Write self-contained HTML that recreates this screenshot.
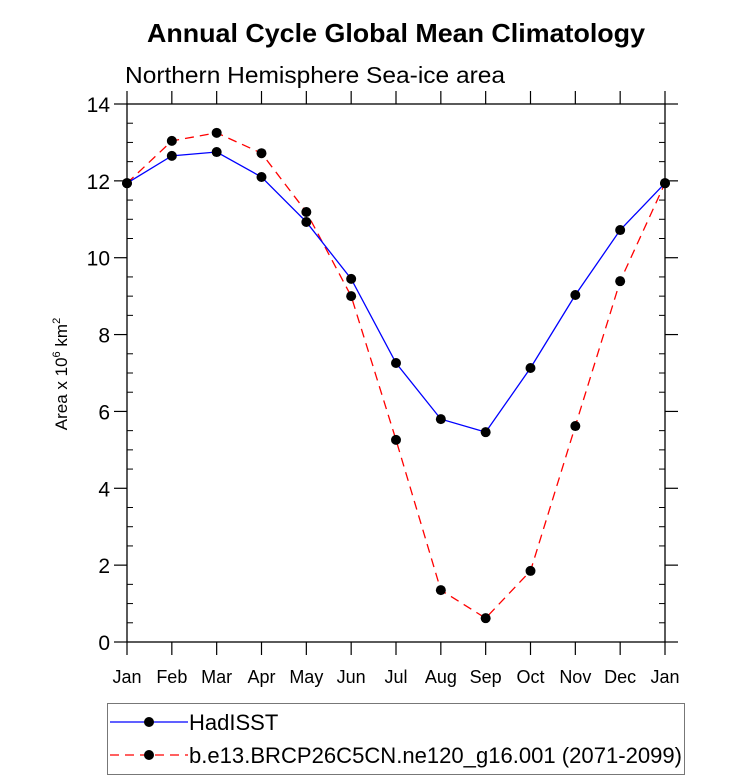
<!DOCTYPE html>
<html><head><meta charset="utf-8"><style>
body{margin:0;background:#fff;}
svg{display:block;font-family:"Liberation Sans",Arial,sans-serif;}
</style></head><body>
<svg id="c" width="733" height="781">
<text x="147" y="42" textLength="498" lengthAdjust="spacingAndGlyphs" font-size="26" font-weight="bold">Annual Cycle Global Mean Climatology</text>
<text x="125" y="83" textLength="380" lengthAdjust="spacingAndGlyphs" font-size="23">Northern Hemisphere Sea-ice area</text>
<text transform="translate(67,374) rotate(-90)" text-anchor="middle" font-size="17">Area x 10<tspan dy="-7" font-size="11">6</tspan><tspan dy="7"> km</tspan><tspan dy="-7" font-size="11">2</tspan></text>
<g id="axes"></g>
<g id="series"></g>
<g>
<rect x="107.5" y="703.5" width="577" height="71" fill="none" stroke="#777"/>
<g>
<line x1="110" y1="722" x2="188" y2="722" stroke="#00f" stroke-width="1.3"/>
<circle cx="149" cy="722" r="5" fill="#000"/>
<text x="189" y="730" font-size="22">HadISST</text></g>
<g>
<line x1="110" y1="755" x2="188" y2="755" stroke="#f00" stroke-width="1.3" stroke-dasharray="9,6"/>
<circle cx="149" cy="755" r="5" fill="#000"/>
<text x="189" y="763" textLength="493" lengthAdjust="spacingAndGlyphs" font-size="22">b.e13.BRCP26C5CN.ne120_g16.001 (2071-2099)</text></g>
</g>
</svg>
<script>
const months=["Jan","Feb","Mar","Apr","May","Jun","Jul","Aug","Sep","Oct","Nov","Dec","Jan"];
const hadisst=[11.94,12.65,12.75,12.1,10.93,9.45,7.26,5.8,5.46,7.13,9.03,10.72,11.94];
const model=[11.94,13.04,13.25,12.72,11.19,9.0,5.26,1.35,0.62,1.85,5.62,9.39,11.94];
const yTicks=[0,2,4,6,8,10,12,14];
const L=127,R=665,T=104,B=642,ymax=14;
const xs=i=>L+(R-L)*i/(months.length-1);
const ys=v=>B-(B-T)*v/ymax;
const NS="http://www.w3.org/2000/svg";
function mk(tag,attrs,parent){const e=document.createElementNS(NS,tag);for(const k in attrs)e.setAttribute(k,attrs[k]);parent.appendChild(e);return e;}
const ax=document.getElementById('axes');
const frame=mk('rect',{x:L,y:T,width:R-L,height:B-T,fill:'none',stroke:'#000','stroke-width':1.3},ax);


months.forEach((m,i)=>{
  const x=xs(i);
  mk('line',{x1:x,y1:B,x2:x,y2:B+13,stroke:'#000','stroke-width':1.2},ax);
  mk('line',{x1:x,y1:T,x2:x,y2:T-13,stroke:'#000','stroke-width':1.2},ax);
  const t=mk('text',{x:x,y:B+41,'text-anchor':'middle','font-size':18},ax);
  t.textContent=m;
  
  
});
yTicks.forEach(v=>{
  const y=ys(v);
  mk('line',{x1:L,y1:y,x2:L-13,y2:y,stroke:'#000','stroke-width':1.2},ax);
  mk('line',{x1:R,y1:y,x2:R+13,y2:y,stroke:'#000','stroke-width':1.2},ax);
  const t=mk('text',{x:L-17,y:y+8,'text-anchor':'end','font-size':21},ax);
  t.textContent=v;
  
  
});
for(let v=0.5;v<ymax;v+=0.5){if(v%2===0)continue;const y=ys(v);
  mk('line',{x1:L,y1:y,x2:L+6,y2:y,stroke:'#000','stroke-width':1},ax);
  mk('line',{x1:R,y1:y,x2:R-6,y2:y,stroke:'#000','stroke-width':1},ax);}
const sg=document.getElementById('series');
function series(vals,color,dash,name){
  const g=mk('g',{},sg);
  
  
  const p=mk('polyline',{points:vals.map((v,i)=>xs(i)+','+ys(v)).join(' '),fill:'none',stroke:color,'stroke-width':1.3},g);
  if(dash)p.setAttribute('stroke-dasharray',dash);
  vals.forEach((v,i)=>{const c=mk('circle',{cx:xs(i),cy:ys(v),r:5,fill:'#000'},g);
    
    });
}
series(model,'#f00','9,6','series-model');
series(hadisst,'#00f',null,'series-hadisst');
</script>
</body></html>
